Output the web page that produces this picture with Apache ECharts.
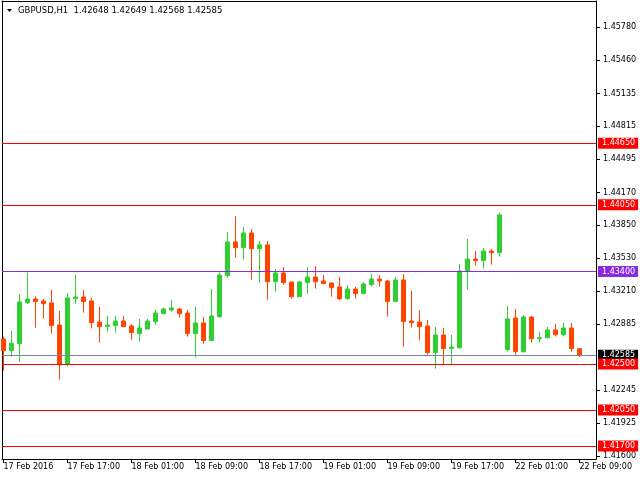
<!DOCTYPE html>
<html><head><meta charset="utf-8">
<script src="https://cdn.jsdelivr.net/npm/echarts@6/dist/echarts.min.js"></script>
<style>html,body{margin:0;padding:0;background:#fff}#c{width:640px;height:480px}</style>
</head><body><div id="c"></div>
<script>
const symbol = 'GBPUSD,H1';
// hourly bars: 17 Feb 09:00 ... 19 Feb 23:00, 22 Feb 00:00 ... 22 Feb 09:00
const open = [1.42743,1.42629,1.42697,1.43097,1.43133,1.43113,1.43094,1.42879,1.42499,1.43136,
1.43152,1.43113,1.42908,1.42863,1.42873,1.42918,1.42870,1.42795,1.42840,1.42912,
1.42990,1.43025,1.43035,1.42996,1.42795,1.42899,1.42727,1.42960,1.43360,1.43688,
1.43633,1.43776,1.43623,1.43659,1.43301,1.43386,1.43298,1.43155,1.43292,1.43347,
1.43308,1.43288,1.43250,1.43136,1.43230,1.43185,1.43272,1.43327,1.43308,1.43107,
1.43318,1.42918,1.42908,1.42870,1.42610,1.42782,1.42649,1.42658,1.43399,1.43522,
1.43506,1.43600,1.43584,1.42639,1.42947,1.42619,1.42957,1.42746,1.42756,1.42831,
1.42785,1.42850,1.42648];
const high = [1.42766,1.42821,1.43181,1.43389,1.43159,1.43133,1.43220,1.43016,1.43191,1.43366,
1.43220,1.43142,1.43055,1.42967,1.42967,1.42967,1.42889,1.42938,1.42938,1.43025,
1.43045,1.43123,1.43045,1.43025,1.43055,1.42957,1.43230,1.43389,1.43785,1.43941,
1.43834,1.43815,1.43698,1.43698,1.43425,1.43444,1.43300,1.43308,1.43444,1.43454,
1.43366,1.43298,1.43347,1.43269,1.43250,1.43298,1.43376,1.43366,1.43318,1.43347,
1.43376,1.43211,1.43025,1.42928,1.42860,1.42850,1.42782,1.43474,1.43717,1.43600,
1.43630,1.43620,1.43971,1.43064,1.43035,1.42977,1.42967,1.42811,1.42860,1.42889,
1.42899,1.42899,1.42649];
const low = [1.42434,1.42571,1.42522,1.43084,1.42853,1.42941,1.42795,1.42347,1.42473,1.43087,
1.42999,1.42844,1.42707,1.42814,1.42805,1.42861,1.42736,1.42717,1.42834,1.42882,
1.42988,1.43009,1.42951,1.42766,1.42561,1.42697,1.42725,1.42951,1.43340,1.43535,
1.43516,1.43321,1.43292,1.43126,1.43204,1.43272,1.43136,1.43153,1.43181,1.43233,
1.43280,1.43155,1.43126,1.43126,1.43136,1.43183,1.43253,1.43253,1.42960,1.43105,
1.42668,1.42853,1.42727,1.42590,1.42454,1.42499,1.42499,1.42649,1.43224,1.43457,
1.43428,1.43467,1.43545,1.42619,1.42587,1.42610,1.42707,1.42707,1.42746,1.42766,
1.42766,1.42619,1.42568];
const close = [1.42629,1.42701,1.43103,1.43133,1.43107,1.43087,1.42873,1.42496,1.43142,1.43152,
1.43107,1.42902,1.42863,1.42879,1.42918,1.42863,1.42805,1.42850,1.42918,1.42996,
1.43035,1.43045,1.42990,1.42795,1.42899,1.42727,1.42967,1.43366,1.43688,1.43633,
1.43776,1.43623,1.43659,1.43301,1.43386,1.43292,1.43155,1.43298,1.43347,1.43301,
1.43282,1.43243,1.43133,1.43230,1.43185,1.43279,1.43327,1.43308,1.43107,1.43318,
1.42912,1.42902,1.42863,1.42610,1.42782,1.42649,1.42665,1.43405,1.43522,1.43506,
1.43600,1.43584,1.43951,1.42938,1.42619,1.42957,1.42746,1.42756,1.42831,1.42785,
1.42850,1.42649,1.42585];
const xTickIndex = [0,8,16,24,32,40,48,56,64,72];
const xTickLabels = ['17 Feb 2016','17 Feb 17:00','18 Feb 01:00','18 Feb 09:00','18 Feb 17:00',
  '19 Feb 01:00','19 Feb 09:00','19 Feb 17:00','22 Feb 01:00','22 Feb 09:00'];
const yTickValues = [1.41600,1.41925,1.42245,1.42885,1.43210,1.43530,1.43850,1.44170,1.44495,1.44815,1.45135,1.45460,1.45780];
const redLevels = [1.44650,1.44050,1.42500,1.42050,1.41700];
const purpleLevels = [1.43400];
const bidLevel = 1.42585;

const FONT = 'DejaVu Sans';
const chart = echarts.init(document.getElementById('c'), null, {renderer:'canvas'});
const data = open.map((o,i)=>[i, o, close[i], low[i], high[i]]);
const last = open.length - 1;
function level(v, bg, line){
  return {yAxis: v, lineStyle:{color: line || bg, width:1, type:'solid'},
    label:{show:true, position:'end', distance:2, formatter: v.toFixed(5), color:'#fff',
      backgroundColor: bg, fontFamily: FONT, fontSize: 8, lineHeight: 9, padding:[1,3,1,4]}};
}
const yMin = 1.4157333, yMax = 1.4603597, xMin = -0.1875, xMax = 74.0625;
const levelData = purpleLevels.map(v=>level(v,'#8a2be2'))
  .concat(redLevels.map(v=>level(v,'#ff0000')));
chart.setOption({
  animation:false,
  backgroundColor:'#ffffff',
  grid:{left:2, top:1, width:594, height:458},
  xAxis:[{type:'value', min:xMin, max:xMax, position:'bottom',
    axisLine:{show:true,onZero:false,lineStyle:{color:'#000',width:1}},
    axisTick:{show:true,inside:false,length:4,customValues:xTickIndex,lineStyle:{color:'#000'}},
    axisLabel:{show:true,customValues:xTickIndex,formatter:v=>xTickLabels[xTickIndex.indexOf(Math.round(v))]||'',
      align:'left',margin:4,color:'#000',fontFamily:FONT,fontSize:8},
    splitLine:{show:false}},
   {type:'value', min:xMin, max:xMax, position:'top',
    axisLine:{show:true,onZero:false,lineStyle:{color:'#000',width:1}},
    axisTick:{show:false},axisLabel:{show:false},splitLine:{show:false}}],
  yAxis:[{type:'value', min:yMin, max:yMax, position:'right', scale:true,
    axisLine:{show:true,onZero:false,lineStyle:{color:'#000',width:1}},
    axisTick:{show:true,inside:false,length:4,customValues:yTickValues,lineStyle:{color:'#000'}},
    axisLabel:{show:true,customValues:yTickValues,formatter:v=>v.toFixed(5),margin:7,color:'#000',fontFamily:FONT,fontSize:8},
    splitLine:{show:false}},
   {type:'value', min:yMin, max:yMax, position:'left', scale:true,
    axisLine:{show:true,onZero:false,lineStyle:{color:'#000',width:1}},
    axisTick:{show:false},axisLabel:{show:false},splitLine:{show:false}}],
  series:[
   {type:'line', xAxisIndex:0, yAxisIndex:0, data:[], silent:true, z:2,
    markLine:{symbol:['none','none'], precision:5, silent:true, animation:false, data:[level(bidLevel, '#000000', '#778899')]}},
   {type:'candlestick', xAxisIndex:0, yAxisIndex:0, data:data, barWidth:4, clip:true, z:3,
    itemStyle:{color:'#32cd32', color0:'#ff4500', borderColor:'#32cd32', borderColor0:'#ff4500', borderWidth:1}},
   {type:'line', xAxisIndex:0, yAxisIndex:0, data:[], silent:true, z:4,
    markLine:{symbol:['none','none'], precision:5, silent:true, animation:false, data:levelData}}],
  graphic:[
    {type:'polygon', shape:{points:[[7,9],[12,9],[9.5,12]]}, style:{fill:'#000'}},
    {type:'text', left:18, top:6, style:{text: symbol + '  ' + [open[last],high[last],low[last],close[last]].map(v=>v.toFixed(5)).join(' '),
      font:'8.5px "DejaVu Sans"', fill:'#000'}}
  ]
});
</script></body></html>
